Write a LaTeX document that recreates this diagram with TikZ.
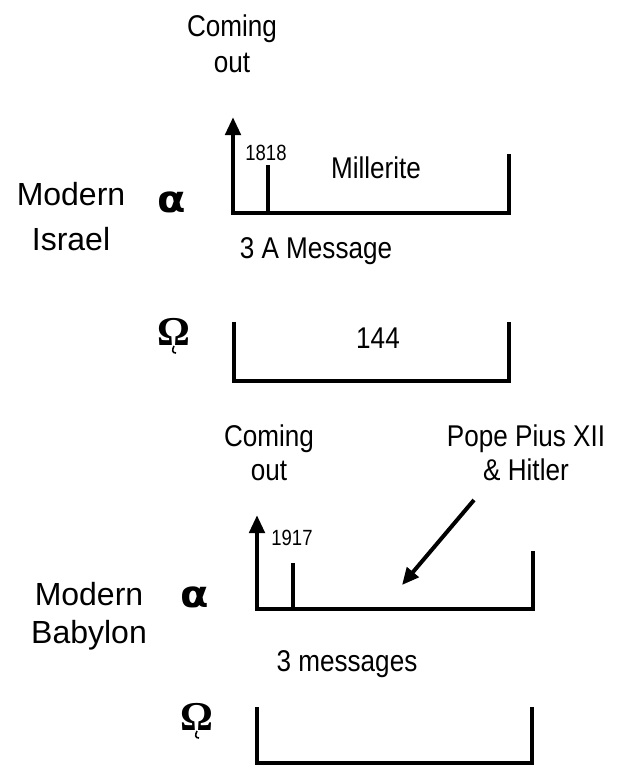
\documentclass[tikz,border=0pt]{standalone}
\usepackage{fontspec}
\setmainfont{Liberation Sans}
\newfontfamily\grk{Liberation Serif}
\newfontfamily\alf{DejaVu Sans}
\usetikzlibrary{arrows.meta}
\begin{document}
\begin{tikzpicture}[x=1pt,y=-1pt,
  bar/.style={line width=4.5pt, line join=miter},
  uparrow/.style={line width=4.5pt, line join=miter, -{Triangle[length=18pt,width=15pt]}},
  diag/.style={line width=4pt, -{Triangle[length=17pt,width=15pt]}},
  lbl/.style={anchor=base, inner sep=0pt, align=center, xscale=0.87, font=\fontsize{30}{36}\selectfont},
  side/.style={anchor=base, inner sep=0pt, align=center, font=\fontsize{32}{45}\selectfont},
  year/.style={anchor=base, inner sep=0pt, xscale=0.84, font=\fontsize{22}{26}\selectfont},
  alph/.style={anchor=base, inner sep=0pt, xscale=1.12, font=\alf\bfseries\fontsize{37}{40}\selectfont},
  omg/.style={anchor=base, inner sep=0pt, font=\grk\bfseries\fontsize{41}{44}\selectfont}]
\useasboundingbox (0,0) rectangle (620,766);
% ---------- Modern Israel ----------
\node[lbl] (co1) at (232,72) {Coming\\out};
\node[side] (mi) at (71,250) {Modern\\Israel};
\node[alph] (al1) at (172,212) {α};
\node[year] (y1818) at (266,160) {1818};
\node[lbl] (mill) at (376,178) {Millerite};
\node[lbl] (m3a) at (316,258) {3 A Message};
\coordinate (a1r) at (509,154);
\coordinate (a1br) at (509,213);
\coordinate (a1bl) at (233,213);
\coordinate (a1top) at (233,117);
\coordinate (t1b) at (268,213);
\coordinate (t1t) at (268,165);
\draw[uparrow] (a1r) -- (a1br) -- (a1bl) -- (a1top);
\draw[bar] (t1b) -- (t1t);
\node[omg] (om1) at (174,345) {Ω};
\draw[line width=1.6pt] (174,346) .. controls (172,350) and (172,353) .. (176,353);
\node[lbl] (n144) at (378,348) {144};
\coordinate (o1tl) at (234,322);
\coordinate (o1bl) at (234,381);
\coordinate (o1br) at (509,381);
\coordinate (o1tr) at (509,322);
\draw[bar] (o1tl) -- (o1bl) -- (o1br) -- (o1tr);
% ---------- Modern Babylon ----------
\node[lbl, font=\fontsize{30}{34}\selectfont] (co2) at (269,480) {Coming\\out};
\node[lbl, font=\fontsize{30}{34}\selectfont] (pope) at (526,480) {Pope Pius XII\\\& Hitler};
\node[side, font=\fontsize{32}{38}\selectfont] (mb) at (89,643) {Modern\\Babylon};
\node[alph] (al2) at (195,607) {α};
\node[year] (y1917) at (292,545) {1917};
\node[lbl] (m3) at (347,671) {3 messages};
\coordinate (a2r) at (533,551);
\coordinate (a2br) at (533,609);
\coordinate (a2bl) at (257,609);
\coordinate (a2top) at (257,515);
\coordinate (t2b) at (293,609);
\coordinate (t2t) at (293,563);
\draw[uparrow] (a2r) -- (a2br) -- (a2bl) -- (a2top);
\draw[bar] (t2b) -- (t2t);
\coordinate (ps) at (474,500);
\coordinate (pe) at (402,585);
\draw[diag] (ps) -- (pe);
\node[omg] (om2) at (197,730) {Ω};
\draw[line width=1.6pt] (197,731) .. controls (195,735) and (195,738) .. (199,738);
\coordinate (o2tl) at (257,707);
\coordinate (o2bl) at (257,763);
\coordinate (o2br) at (532,763);
\coordinate (o2tr) at (532,707);
\draw[bar] (o2tl) -- (o2bl) -- (o2br) -- (o2tr);
\end{tikzpicture}
\end{document}
